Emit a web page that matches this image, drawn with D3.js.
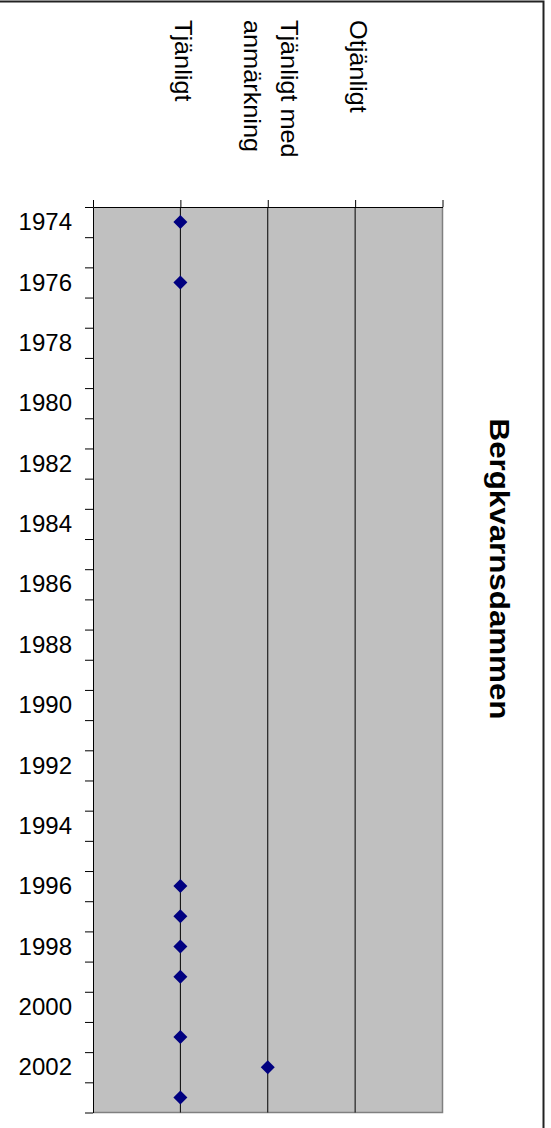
<!DOCTYPE html>
<html>
<head>
<meta charset="utf-8">
<script src="https://cdn.jsdelivr.net/npm/d3@7"></script>
<style>
	body { margin: 0; background: #fff; }
	text { font-family: "Liberation Sans", Arial, sans-serif; fill: #000; }
</style>
</head>
<body>
<svg id="svg_main" width="551" height="1128"></svg>
<script>
// provtagningar: år och bedömning (1 = Tjänligt, 2 = Tjänligt med anm., 3 = Otjänligt)
var years = [1974, 1976, 1996, 1997, 1998, 1999, 2001, 2002, 2003];
var quality = [1, 1, 1, 1, 1, 1, 1, 2, 1];
var categories = [["Tjänligt"], ["Tjänligt med", "anmärkning"], ["Otjänligt"]];
var yearLabels = d3.range(1974, 2003, 2);
var title = "Bergkvarnsdammen";

var svg = d3.select("#svg_main");

var plot = { left: 93, right: 442.5, top: 207, bottom: 1112.5 };

var x = d3.scaleLinear().domain([0, 4]).range([plot.left, plot.right]);
var y = d3.scaleLinear().domain([1973.5, 2003.5]).range([plot.top, plot.bottom]);

// outer chart border (only top and right are inside the picture)
svg.append("rect")
	.attr("x", -10).attr("y", 1.5)
	.attr("width", 553.5).attr("height", 1140)
	.attr("fill", "none")
	.attr("stroke", "#222")
	.attr("stroke-width", 2);

// plot area
svg.append("rect")
	.attr("x", plot.left).attr("y", plot.top)
	.attr("width", plot.right - plot.left)
	.attr("height", plot.bottom - plot.top)
	.attr("fill", "#c0c0c0");
svg.append("path")
	.attr("d", `M${plot.right},${plot.top}V${plot.bottom}H${plot.left}`)
	.attr("fill", "none")
	.attr("stroke", "#808080")
	.attr("stroke-width", 1.5);

// vertical grid lines at the categories
svg.append("g")
	.selectAll("line")
	.data([1, 2, 3])
	.enter().append("line")
	.attr("x1", d => x(d)).attr("x2", d => x(d))
	.attr("y1", plot.top).attr("y2", plot.bottom)
	.attr("stroke", "#000")
	.attr("stroke-width", 1);

// top axis (tick marks only)
var xAxis = d3.axisTop(x).tickValues([0, 1, 2, 3, 4]).tickSize(7).tickSizeOuter(0).tickFormat("");
svg.append("g")
	.attr("class", "xAxis")
	.attr("transform", `translate(0, ${plot.top})`)
	.call(xAxis)
	.call(g => g.selectAll("line, path").attr("stroke", "#000"));

// left axis: tick marks every year boundary
var yTicks = d3.range(1973.5, 2004, 1);
var yAxis = d3.axisLeft(y).tickValues(yTicks).tickSize(8).tickSizeOuter(0).tickFormat("");
svg.append("g")
	.attr("class", "yAxis")
	.attr("transform", `translate(${plot.left}, 0)`)
	.call(yAxis)
	.call(g => g.selectAll("line, path").attr("stroke", "#000"));

// year labels
var yLabels = d3.axisLeft(y).tickValues(yearLabels).tickSize(0).tickPadding(21).tickFormat(d3.format("d"));
svg.append("g")
	.attr("class", "yLabels")
	.attr("transform", `translate(${plot.left}, 0)`)
	.call(yLabels)
	.call(g => g.select(".domain").remove())
	.call(g => g.selectAll("text")
		.attr("font-size", "24px")
		.attr("font-family", "Liberation Sans, Arial, sans-serif")
		.attr("fill", "#000"));

// category labels, rotated
var catFont = 23, catStretch = 1.1, lineGap = 37;
categories.forEach((lines, i) => {
	let cx = x(i + 1);
	let n = lines.length;
	lines.forEach((t, j) => {
		// first line on the right
		let base = cx - 5 + ((n - 1) / 2 - j) * lineGap;
		svg.append("text")
			.attr("transform", `translate(${base}, 20) rotate(90) scale(${catStretch}, 1)`)
			.attr("font-size", `${catFont}px`)
			.attr("text-anchor", "start")
			.text(t);
	});
});

// data points
var diamond = d3.symbol().type(d3.symbolSquare).size(98);
svg.append("g")
	.selectAll("path")
	.data(years.map((d, i) => ({ year: d, s: quality[i] })))
	.enter().append("path")
	.attr("d", diamond)
	.attr("transform", d => `translate(${x(d.s)}, ${y(d.year)}) rotate(45)`)
	.attr("fill", "#000080");

// title
svg.append("text")
	.attr("transform", `translate(490, 569) rotate(90) scale(1.16, 1)`)
	.attr("font-size", "27px")
	.attr("font-weight", "bold")
	.attr("text-anchor", "middle")
	.text(title);
</script>
</body>
</html>
